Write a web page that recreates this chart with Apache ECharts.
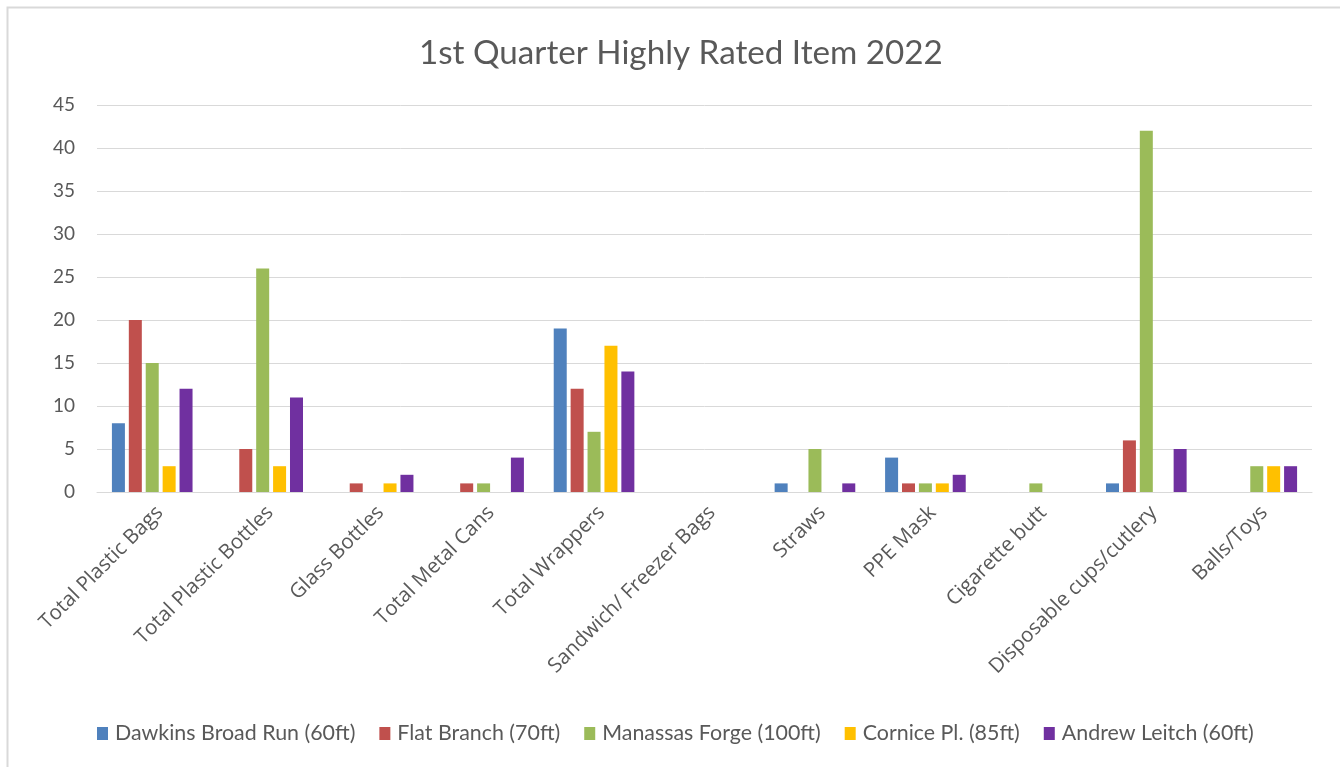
<!DOCTYPE html>
<html>
<head>
<meta charset="utf-8">
<script src="https://cdn.jsdelivr.net/npm/echarts@6/dist/echarts.min.js"></script>
<style>
  html, body { margin: 0; padding: 0; background: #fff; }
  #chart { width: 1340px; height: 767px; }
</style>
</head>
<body>
<div id="chart"></div>
<script>
// Item categories along the x axis
const categories = [
  'Total Plastic Bags', 'Total Plastic Bottles', 'Glass Bottles', 'Total Metal Cans',
  'Total Wrappers', 'Sandwich/ Freezer Bags', 'Straws', 'PPE Mask',
  'Cigarette butt', 'Disposable cups/cutlery', 'Balls/Toys'
];

// Counts per site, one value per category
const dawkinsBroadRun = [8, 0, 0, 0, 19, 0, 1, 4, 0, 1, 0];
const flatBranch      = [20, 5, 1, 1, 12, 0, 0, 1, 0, 6, 0];
const manassasForge   = [15, 26, 0, 1, 7, 0, 5, 1, 1, 42, 3];
const cornicePl       = [3, 3, 1, 0, 17, 0, 0, 1, 0, 0, 3];
const andrewLeitch    = [12, 11, 2, 4, 14, 0, 1, 2, 0, 5, 3];

const seriesNames = [
  'Dawkins Broad Run (60ft)', 'Flat Branch (70ft)', 'Manassas Forge (100ft)',
  'Cornice Pl. (85ft)', 'Andrew Leitch (60ft)'
];
const seriesValues = [dawkinsBroadRun, flatBranch, manassasForge, cornicePl, andrewLeitch];
const seriesColors = ['#4f81bd', '#c0504d', '#9bbb59', '#ffc000', '#7030a0'];

// Value axis ticks
const yMin = 0, yMax = 45, yStep = 5;

const textGrey = '#595959';
const gridGrey = '#d9d9d9';

const chart = echarts.init(document.getElementById('chart'), null, { renderer: 'canvas' });

chart.setOption({
  backgroundColor: '#ffffff',
  animation: false,
  title: {
    text: '1st Quarter Highly Rated Item 2022',
    left: 414,
    top: 32,
    textStyle: { fontFamily: 'Lato', fontSize: 33.2, fontWeight: 'normal', color: textGrey }
  },
  legend: {
    bottom: 18,
    left: 92,
    itemWidth: 11,
    itemHeight: 13,
    itemGap: 24,
    icon: 'rect',
    textStyle: { fontFamily: 'Lato', fontSize: 21.4, color: textGrey, padding: [0, 0, 0, 2] },
    data: seriesNames
  },
  grid: { left: 97, right: 28, top: 105, bottom: 275, containLabel: false },
  xAxis: {
    type: 'category',
    data: categories,
    axisLine: { lineStyle: { color: gridGrey, width: 1 } },
    axisTick: { show: false },
    axisLabel: {
      rotate: 45,
      interval: 0,
      margin: 10,
      verticalAlign: 'top',
      fontFamily: 'Open Sans',
      fontSize: 20.5,
      color: textGrey
    }
  },
  yAxis: {
    type: 'value',
    min: yMin,
    max: yMax,
    interval: yStep,
    axisLine: { show: false },
    axisTick: { show: false },
    splitLine: { lineStyle: { color: gridGrey, width: 1 } },
    axisLabel: { fontFamily: 'Lato', fontSize: 19, color: textGrey, margin: 22 }
  },
  series: seriesNames.map((name, i) => ({
    name: name,
    type: 'bar',
    data: seriesValues[i],
    barGap: '30%',
    barCategoryGap: '27%',
    itemStyle: { color: seriesColors[i] }
  })),
  graphic: [{
    type: 'rect',
    shape: { x: 7.5, y: 7.5, width: 1340, height: 780 },
    style: { fill: 'none', stroke: gridGrey, lineWidth: 2 },
    silent: true
  }]
});
</script>
</body>
</html>
